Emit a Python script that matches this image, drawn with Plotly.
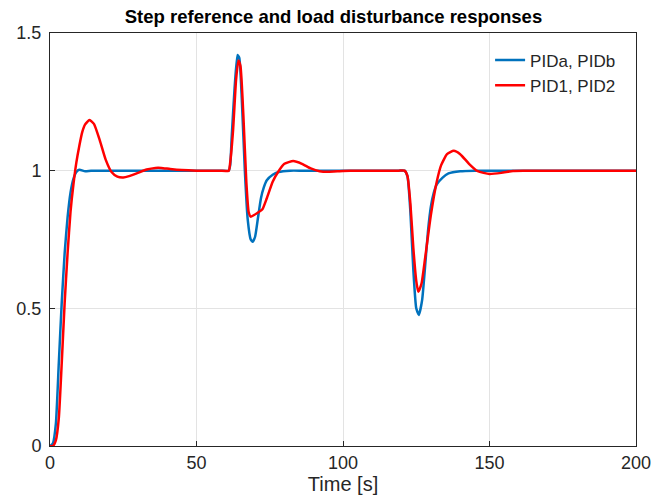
import plotly.graph_objects as go

# PIDa, PIDb response
t_blue = [0, 1, 2, 3, 4, 5, 6, 7, 8, 9, 10, 12, 14, 17, 20, 30, 40, 50, 56, 59, 61, 61.5, 62, 63, 64,
          64.6, 65.5, 66.5, 67.5, 68.5, 69.2, 70, 71, 72, 73, 74, 76, 78, 82, 86, 90, 100, 110, 116,
          119, 121, 122, 123, 124, 125, 125.9, 127, 128, 129, 130, 131, 132, 134, 136, 140, 145,
          150, 160, 170, 180, 190, 200]
y_blue = [0, 0.01, 0.08, 0.3, 0.52, 0.7, 0.83, 0.92, 0.97, 0.995, 1.003, 0.998, 1.0, 1.0, 1.0, 1.0,
          1.0, 1.0, 1.0, 1.0, 1.0, 1.02, 1.12, 1.3, 1.42, 1.41, 1.25, 1.0, 0.82, 0.75, 0.742, 0.76,
          0.83, 0.9, 0.94, 0.965, 0.985, 0.995, 1.0, 1.0, 1.0, 1.0, 1.0, 1.0, 1.0, 1.0, 0.98, 0.85,
          0.64, 0.5, 0.476, 0.53, 0.65, 0.78, 0.87, 0.92, 0.95, 0.975, 0.99, 0.998, 1.0, 1.0, 1.0,
          1.0, 1.0, 1.0, 1.0]

# PID1, PID2 response
t_red = [0, 1, 2, 3, 4, 5, 6, 7, 8, 9, 10, 11, 12, 13.5, 15, 17, 19, 21, 23, 25, 27, 30, 33, 36, 38,
         41, 45, 50, 55, 58, 61, 61.5, 62.5, 63.5, 64.3, 65, 66, 67, 67.8, 68.5, 69.5, 71, 72.5, 74,
         76, 78, 80, 83, 86, 89, 92, 95, 100, 105, 110, 116, 119, 121, 122, 123, 124, 125, 125.7,
         126.8, 128, 130, 132, 133.5, 135.5, 137.8, 140, 143, 146, 150, 154, 158, 162, 170, 180,
         190, 200]
y_red = [0, 0.0, 0.02, 0.1, 0.3, 0.52, 0.7, 0.85, 0.95, 1.03, 1.09, 1.14, 1.168, 1.184, 1.17, 1.11,
         1.04, 0.995, 0.978, 0.975, 0.98, 0.992, 1.004, 1.01, 1.01, 1.006, 1.002, 1.0, 1.0, 1.0,
         1.0, 1.03, 1.15, 1.33, 1.40, 1.38, 1.2, 0.96, 0.85, 0.833, 0.838, 0.848, 0.86, 0.9, 0.96,
         0.998, 1.025, 1.035, 1.025, 1.008, 0.998, 0.996, 0.999, 1.0, 1.0, 1.0, 1.0, 1.0, 0.98,
         0.88, 0.72, 0.6, 0.56, 0.59, 0.68, 0.84, 0.96, 1.02, 1.06, 1.072, 1.06, 1.025, 0.998,
         0.988, 0.992, 0.999, 1.0, 1.0, 1.0, 1.0, 1.0]

x_ticks = [0, 50, 100, 150, 200]
y_ticks = [0, 0.5, 1, 1.5]
y_tick_text = ["0", "0.5", "1", "1.5"]

FONT = "Liberation Sans, Arial"

fig = go.Figure()
fig.add_trace(go.Scatter(x=t_blue, y=y_blue, mode="lines", name="PIDa, PIDb",
                         line=dict(color="#0072BD", width=2.5, shape="spline", smoothing=0.5)))
fig.add_trace(go.Scatter(x=t_red, y=y_red, mode="lines", name="PID1, PID2",
                         line=dict(color="#FF0000", width=2.5, shape="spline", smoothing=0.5)))

axis_common = dict(showline=True, mirror=True, linecolor="#262626", linewidth=1,
                   ticks="inside", ticklen=5, tickcolor="#262626",
                   showgrid=True, gridcolor="#e3e3e3", gridwidth=1, zeroline=False,
                   tickfont=dict(family=FONT, size=18, color="#262626"))

fig.update_layout(
    width=667, height=504,
    margin=dict(l=50, r=31, t=33, b=58),
    paper_bgcolor="white", plot_bgcolor="white",
    title=dict(text="<b>Step reference and load disturbance responses</b>", x=0.5, xanchor="center",
               y=0.968, yanchor="middle",
               font=dict(family=FONT, size=18.5, color="#000000")),
    xaxis=dict(range=[0, 200], tickvals=x_ticks,
               title=dict(text="Time [s]", font=dict(family=FONT, size=20, color="#262626"),
                          standoff=4),
               **axis_common),
    yaxis=dict(range=[0, 1.5], tickvals=y_ticks, ticktext=y_tick_text, ticklabelstandoff=4,
               **axis_common),
    legend=dict(x=0.751, xanchor="left", y=0.977, yanchor="top", bgcolor="white",
                borderwidth=0, font=dict(family=FONT, size=17, color="#262626"),
                itemwidth=30, tracegroupgap=0),
    showlegend=True,
)

fig.write_html("out.html")
